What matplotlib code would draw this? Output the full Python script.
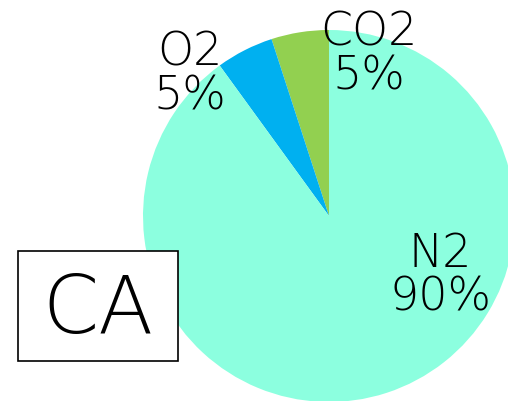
import matplotlib
matplotlib.use('Agg')
import matplotlib.pyplot as plt
from matplotlib.patches import Rectangle

#gas composition, counterclockwise from the top
gases = ['CO2', 'O2', 'N2']
shares = [5, 5, 90]
colors = ['#92D050', '#00B0F0', '#8CFFDF']
site = 'CA'

H = 402  #figure height in pixels, used to flip picture coords

fig = plt.figure(figsize=(5.08, 4.02), dpi=100)
ax = fig.add_axes([0, 0, 1, 1])

ax.pie(shares, colors=colors, startangle=90, counterclock=True,
       center=(329, H - 217), radius=186, frame=True,
       wedgeprops={'linewidth': 0})
ax.set_xlim(0, 508)
ax.set_ylim(0, H)
ax.set_aspect('equal')
ax.axis('off')

#label positions (picture pixels)
label_xy = [(369, 55), (190, 75), (440, 276)]
for g, s, (x, y) in zip(gases, shares, label_xy):
    ax.text(x, H - y, '%s\n%d%%' % (g, s), ha='center', va='center',
            fontsize=33, linespacing=1.0, color='black',
            family='DejaVu Sans', fontweight='light')

#site box, white filled so it sits on top of the pie
ax.add_patch(Rectangle((18, H - 362), 160, 110, facecolor='white',
                       edgecolor='black', linewidth=1.2, zorder=3))
ax.text(98, H - 311, site, ha='center', va='center', fontsize=58,
        color='black', zorder=4, family='DejaVu Sans', fontweight='light')

fig.savefig('out.png', dpi=100)
